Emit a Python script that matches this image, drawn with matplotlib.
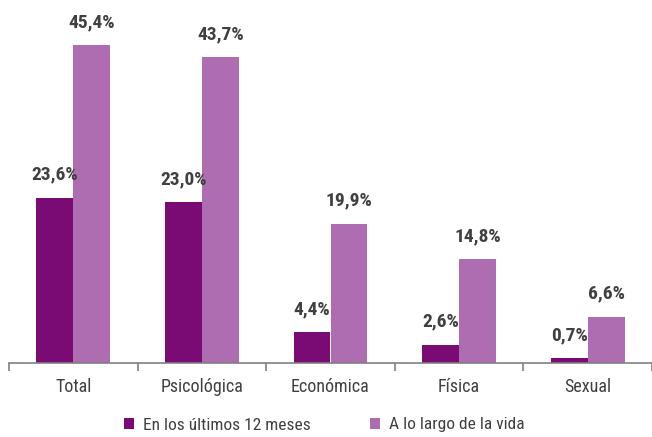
import matplotlib
matplotlib.use('Agg')
import matplotlib.pyplot as plt
import numpy as np

plt.rcParams['font.family'] = ['Roboto Condensed', 'Liberation Sans', 'DejaVu Sans']

# datos
categorias = ['Total', 'Psicológica', 'Económica', 'Física', 'Sexual']
ultimos_12 = [23.6, 23.0, 4.4, 2.6, 0.7]
toda_vida = [45.4, 43.7, 19.9, 14.8, 6.6]
series = ['En los últimos 12 meses', 'A lo largo de la vida']

color_osc = '#7a0a74'
color_cla = '#ae6db1'
gris_txt = '#404040'

fig = plt.figure(figsize=(6.52, 4.37), dpi=100)
ax = fig.add_axes([9 / 652, 74 / 437, 643 / 652, 350 / 437])

x = np.arange(len(categorias))
w = 0.287
b1 = ax.bar(x - w / 2, ultimos_12, w, color=color_osc, label=series[0])
b2 = ax.bar(x + w / 2, toda_vida, w, color=color_cla, label=series[1])

def fmt(v):
    return f'{v:.1f}%'.replace('.', ',')

for barras, vals in ((b1, ultimos_12), (b2, toda_vida)):
    for r, v in zip(barras, vals):
        ax.text(r.get_x() + r.get_width() / 2, v + 2.0, fmt(v), ha='center', va='bottom',
                fontsize=14, fontweight='bold', color=gris_txt)

ax.set_xlim(-0.5, len(categorias) - 0.5)
ax.set_ylim(0, 50)
ax.set_yticks([])
ax.set_xticks(x)
ax.set_xticklabels(categorias, fontsize=13, color=gris_txt)
ax.tick_params(axis='x', length=0, pad=11)
# marcas entre categorias
ax.set_xticks(np.arange(-0.5, len(categorias)), minor=True)
ax.tick_params(axis='x', which='minor', length=6, color='#808080', width=1.2)

for s in ['top', 'right', 'left']:
    ax.spines[s].set_visible(False)
ax.spines['bottom'].set_color('#808080')
ax.spines['bottom'].set_linewidth(1.2)

fig.legend(handles=[b1, b2], labels=series, loc='center', bbox_to_anchor=(0.497, 12 / 437),
           ncol=2, frameon=False, fontsize=12.5, labelcolor=gris_txt,
           handlelength=0.6, handleheight=0.6, handletextpad=0.5, columnspacing=3.4)

fig.savefig('out.png', dpi=100)
